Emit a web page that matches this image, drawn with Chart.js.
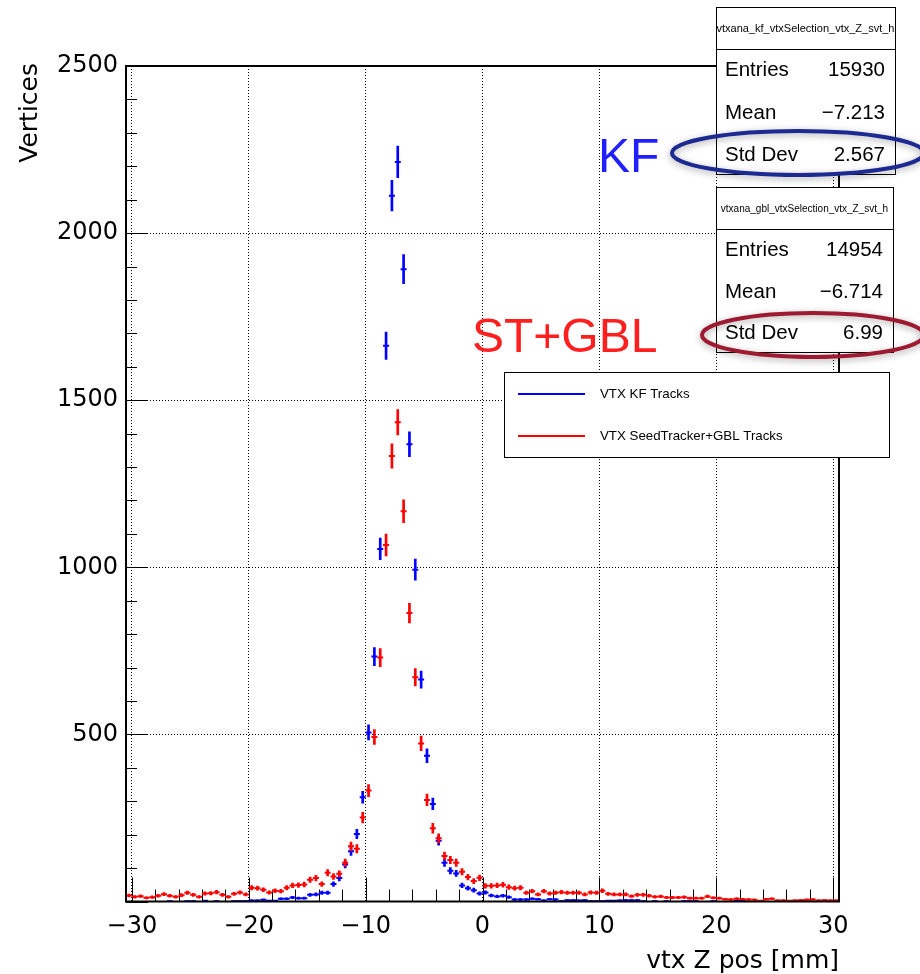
<!DOCTYPE html>
<html>
<head>
<meta charset="utf-8">
<script src="https://cdn.jsdelivr.net/npm/chart.js@4.4.1/dist/chart.umd.min.js"></script>
<style>
  html, body { margin: 0; padding: 0; background: #fff; }
  #caixa { width: 920px; height: 974px; }
</style>
</head>
<body>
<div id="caixa"><canvas id="grafico_vtx" width="920" height="974"></canvas></div>
<script>
// histogram binning (0.5 mm bins from -30.5 to 30.5)
let binLow = -30.5
let binWidth = 0.5

// vertex counts per bin, KF tracks (blue)
let kfCounts = [
    0, 0, 0, 0, 0, 0, 0, 1, 0, 0,
    1, 1, 0, 2, 0, 1, 0, 0, 1, 1,
    1, 3, 3, 5, 2, 2, 8, 8, 12, 10,
    10, 20, 21, 26, 26, 52, 70, 111, 150, 202,
    312, 506, 733, 1055, 1663, 2112, 2213, 1892, 1368, 993,
    664, 436, 292, 182, 116, 92, 84, 48, 40, 34,
    24, 27, 18, 15, 17, 13, 6, 6, 6, 8,
    7, 3, 7, 6, 1, 4, 4, 3, 4, 1,
    1, 1, 2, 2, 3, 4, 4, 4, 1, 0,
    1, 0, 1, 0, 0, 1, 1, 1, 0, 0,
    1, 0, 0, 0, 2, 2, 0, 0, 0, 0,
    0, 0, 0, 0, 0, 0, 0, 0, 0, 0,
    0, 0
]

// vertex counts per bin, SeedTracker+GBL tracks (red)
let gblCounts = [
    18, 14, 16, 11, 13, 17, 22, 17, 14, 19,
    26, 20, 14, 24, 25, 28, 20, 14, 23, 27,
    21, 41, 40, 35, 27, 32, 31, 41, 48, 49,
    51, 65, 70, 52, 86, 75, 83, 116, 165, 158,
    251, 332, 492, 730, 1067, 1333, 1434, 1168, 863, 671,
    473, 304, 219, 189, 136, 124, 116, 89, 73, 61,
    71, 47, 47, 48, 50, 43, 40, 41, 26, 31,
    21, 31, 24, 26, 28, 26, 26, 26, 21, 27,
    26, 32, 23, 21, 21, 21, 16, 20, 20, 17,
    14, 15, 12, 12, 12, 13, 10, 10, 10, 15,
    11, 10, 7, 6, 8, 7, 6, 5, 2, 7,
    8, 3, 3, 2, 3, 4, 5, 6, 3, 4,
    3, 3
]

let xTicks = [-30, -20, -10, 0, 10, 20, 30]
let yTicks = [500, 1000, 1500, 2000, 2500]

let kfStats = [['Entries', '15930'], ['Mean', '\u22127.213'], ['Std Dev', '2.567']]
let gblStats = [['Entries', '14954'], ['Mean', '\u22126.714'], ['Std Dev', '6.99']]

let fonteEixo = 'DejaVu Sans'
let fonteTexto = '"Liberation Sans", Arial, sans-serif'

// bin centres
let centros = kfCounts.map((v, i) => binLow + binWidth * (i + 0.5))

// vertical error bars (sqrt N) as floating bars, skip empty bins
function barrasErro(contagens) {
    let out = []
    contagens.forEach((v, i) => {
        if (v > 0) out.push({ x: centros[i], y: [v - Math.sqrt(v), v + Math.sqrt(v)] })
    })
    return out
}

function pontos(contagens) {
    let out = []
    contagens.forEach((v, i) => {
        if (v > 0) out.push({ x: centros[i], y: v })
    })
    return out
}

function menos(v) {
    return v < 0 ? '\u2212' + Math.abs(v) : String(v)
}

function linha(ctx, x1, y1, x2, y2) {
    ctx.beginPath()
    ctx.moveTo(x1, y1)
    ctx.lineTo(x2, y2)
    ctx.stroke()
}

function caixaStats(ctx, x1, y1, x2, y2, yCab, titulo, tamTitulo, linhas, ysLinhas) {
    ctx.save()
    ctx.fillStyle = '#fff'
    ctx.fillRect(x1, y1, x2 - x1, y2 - y1)
    ctx.strokeStyle = '#000'
    ctx.lineWidth = 1
    ctx.strokeRect(x1 + 0.5, y1 + 0.5, x2 - x1, y2 - y1)
    linha(ctx, x1, yCab + 0.5, x2, yCab + 0.5)
    ctx.fillStyle = '#000'
    ctx.textBaseline = 'middle'
    ctx.textAlign = 'center'
    ctx.font = tamTitulo + 'px ' + fonteTexto
    ctx.fillText(titulo, (x1 + x2) / 2, (y1 + yCab) / 2 + 1)
    ctx.font = '20.5px ' + fonteTexto
    linhas.forEach((l, i) => {
        ctx.textAlign = 'left'
        ctx.fillText(l[0], x1 + 9, ysLinhas[i])
        ctx.textAlign = 'right'
        ctx.fillText(l[1], x2 - 10, ysLinhas[i])
    })
    ctx.restore()
}

function elipse(ctx, cx, cy, rx, ry, cor) {
    ctx.save()
    ctx.shadowColor = 'rgba(0,0,0,0.35)'
    ctx.shadowBlur = 7
    ctx.shadowOffsetY = 2
    ctx.strokeStyle = cor
    ctx.lineWidth = 4
    ctx.beginPath()
    ctx.ellipse(cx, cy, rx, ry, 0, 0, Math.PI * 2)
    ctx.stroke()
    ctx.restore()
}

let decoracao = {
    id: 'decoracao',
    beforeDatasetsDraw(chart) {
        let ctx = chart.ctx
        let a = chart.chartArea
        let xs = chart.scales.x
        let ys = chart.scales.y
        ctx.save()
        ctx.strokeStyle = '#000'
        ctx.lineWidth = 1
        // ticks inside the frame
        for (let v = -30; v <= 30; v += 2) {
            let px = Math.round(xs.getPixelForValue(v)) + 0.5
            linha(ctx, px, a.bottom, px, a.bottom - (v % 10 === 0 ? 24 : 12))
        }
        for (let v = 0; v <= 2500; v += 100) {
            let py = Math.round(ys.getPixelForValue(v)) + 0.5
            linha(ctx, a.left, py, a.left + (v % 500 === 0 ? 22 : 11), py)
        }
        ctx.restore()
    },
    afterDatasetsDraw(chart) {
        let ctx = chart.ctx
        let a = chart.chartArea
        ctx.save()
        ctx.strokeStyle = '#000'
        ctx.lineWidth = 2
        ctx.strokeRect(a.left, a.top, a.right - a.left, a.bottom - a.top)
        ctx.restore()
    },
    afterDraw(chart) {
        let ctx = chart.ctx
        let a = chart.chartArea
        ctx.save()
        ctx.fillStyle = '#000'

        // axis titles
        ctx.font = '25px ' + fonteEixo
        ctx.textAlign = 'right'
        ctx.textBaseline = 'alphabetic'
        ctx.fillText('vtx Z pos [mm]', a.right, 968)
        ctx.save()
        ctx.translate(37, 63)
        ctx.rotate(-Math.PI / 2)
        ctx.fillText('Vertices', 0, 0)
        ctx.restore()

        // legend
        ctx.fillStyle = '#fff'
        ctx.fillRect(504, 372, 385, 85)
        ctx.strokeStyle = '#000'
        ctx.lineWidth = 1
        ctx.strokeRect(504.5, 372.5, 385, 85)
        ctx.lineWidth = 2
        ctx.strokeStyle = '#0000ff'
        linha(ctx, 518, 394, 585, 394)
        ctx.strokeStyle = '#ff0000'
        linha(ctx, 518, 436, 585, 436)
        ctx.fillStyle = '#000'
        ctx.font = '13.3px ' + fonteTexto
        ctx.textAlign = 'left'
        ctx.textBaseline = 'middle'
        ctx.fillText('VTX KF Tracks', 600, 394)
        ctx.fillText('VTX SeedTracker+GBL Tracks', 600, 436)

        // stat boxes
        caixaStats(ctx, 716, 7, 895, 174, 49, 'vtxana_kf_vtxSelection_vtx_Z_svt_h', 11, kfStats, [70, 113, 155])
        caixaStats(ctx, 716, 187, 893, 352, 229, 'vtxana_gbl_vtxSelection_vtx_Z_svt_h', 10, gblStats, [250, 292, 333])

        // annotations
        ctx.font = '48px ' + fonteTexto
        ctx.textAlign = 'left'
        ctx.textBaseline = 'alphabetic'
        ctx.fillStyle = '#1f1fff'
        ctx.fillText('KF', 598, 172)
        ctx.fillStyle = '#ff1f1f'
        ctx.fillText('ST+GBL', 472, 352)
        elipse(ctx, 798, 153, 126, 22, '#1c2a92')
        elipse(ctx, 813, 335, 111, 22, '#9e1a30')
        ctx.restore()
    }
}

let eixoFonte = { family: fonteEixo, size: 24 }

let graficoVtx = new Chart(document.getElementById('grafico_vtx'), {
    type: 'bar',
    data: {
        datasets: [
            {
                type: 'bar', label: 'VTX KF Tracks', data: barrasErro(kfCounts),
                backgroundColor: '#0000ff', barThickness: 2, grouped: false, order: 3
            },
            {
                type: 'scatter', label: 'kf', data: pontos(kfCounts), showLine: false,
                pointStyle: 'line', pointRadius: 3, borderColor: '#0000ff', borderWidth: 2, order: 2
            },
            {
                type: 'bar', label: 'VTX SeedTracker+GBL Tracks', data: barrasErro(gblCounts),
                backgroundColor: '#ff0000', barThickness: 2, grouped: false, order: 1
            },
            {
                type: 'scatter', label: 'gbl', data: pontos(gblCounts), showLine: false,
                pointStyle: 'line', pointRadius: 3, borderColor: '#ff0000', borderWidth: 2, order: 0
            }
        ]
    },
    options: {
        responsive: false,
        animation: false,
        devicePixelRatio: 1,
        events: [],
        layout: { padding: { left: 0, top: 66, right: 81, bottom: 0 } },
        plugins: { legend: { display: false }, tooltip: { enabled: false } },
        scales: {
            x: {
                type: 'linear', min: binLow, max: -binLow, offset: false,
                afterBuildTicks: s => { s.ticks = xTicks.map(v => ({ value: v })) },
                afterFit: s => { s.height = 72.5 },
                grid: { color: '#000', lineWidth: 1, drawTicks: false, offset: false },
                border: { display: false, dash: [1, 2] },
                ticks: { color: '#000', font: eixoFonte, padding: 11, maxRotation: 0, autoSkip: false, callback: v => menos(v) }
            },
            y: {
                type: 'linear', min: 0, max: 2500,
                afterBuildTicks: s => { s.ticks = yTicks.map(v => ({ value: v })) },
                afterFit: s => { s.width = 126 },
                grid: { color: '#000', lineWidth: 1, drawTicks: false },
                border: { display: false, dash: [1, 2] },
                ticks: { color: '#000', font: eixoFonte, padding: 8, autoSkip: false, callback: v => String(v) }
            }
        }
    },
    plugins: [decoracao]
})
</script>
</body>
</html>
